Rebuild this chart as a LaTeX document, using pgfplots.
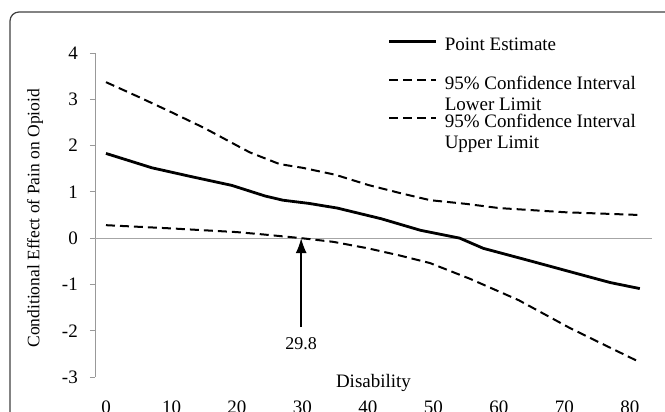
\documentclass[border=0pt]{standalone}
\usepackage{pgfplots}
\pgfplotsset{compat=1.18}
\usepackage{fontspec}
\setmainfont{Liberation Serif}
\usetikzlibrary{arrows.meta}

\pgfplotstableread{
x y
0 1.83
7 1.52
13 1.33
19.2 1.14
24.3 0.91
27 0.82
31 0.75
35.3 0.65
42 0.42
48 0.17
54 0.0
57.6 -0.22
65 -0.5
72.8 -0.8
77 -0.96
81.5 -1.09
}\pointest

\pgfplotstableread{
x y
0 0.28
10 0.21
20 0.13
24 0.08
29.8 0.0
34.7 -0.08
40 -0.22
45 -0.38
49.5 -0.54
55.6 -0.88
63 -1.34
70.8 -1.94
76 -2.3
81.5 -2.68
}\lowerlim

\pgfplotstableread{
x y
0 3.37
5 3.05
10 2.72
15 2.38
20 2.0
22 1.85
26.5 1.6
30 1.52
35 1.37
40 1.15
45 0.97
49.5 0.82
55 0.74
60 0.65
70 0.56
81.5 0.5
}\upperlim

\begin{document}
\begin{tikzpicture}[x=1pt,y=1pt]
\useasboundingbox (-95,-35) rectangle (570,377);
\draw[black!75, line width=1.2pt, rounded corners=9pt] (-85,365) rectangle (640,-100);
\begin{axis}[
  anchor=south west,
  scale only axis, width=557pt, height=324pt,
  xmin=-1.68, xmax=83.36, ymin=-3, ymax=4,
  axis x line*=bottom, axis y line*=left,
  x axis line style={draw=none},
  y axis line style={draw=gray!80, line width=0.8pt},
  xtick={0,10,...,80}, ytick={-3,-2,...,4},
  xtick style={draw=none},
  ytick style={draw=gray!80, line width=0.8pt},
  tick align=outside, major tick length=5pt,
  /pgf/number format/assume math mode=true,
  tick label style={font=\fontsize{19}{22}\selectfont, inner sep=0pt},
  xticklabel style={anchor=north, yshift=-19pt},
  yticklabel style={anchor=east, xshift=-12pt},
  xlabel={Disability},
  xlabel style={at={(axis description cs:0.5,-0.0185)}, anchor=center, font=\fontsize{19}{22}\selectfont, inner sep=0pt},
  ylabel={Conditional Effect of Pain on Opioid},
  ylabel style={at={(axis description cs:-0.1077,0.49)}, anchor=center, font=\fontsize{17.5}{20}\selectfont, inner sep=0pt},
  legend cell align=left,
  legend style={at={(axis description cs:0.526,1.040)}, anchor=north west, draw=none, fill=none, inner sep=0pt, outer sep=0pt, row sep=36pt, column sep=7pt, nodes={inner sep=0pt, outer sep=0pt}, font=\fontsize{19}{21}\selectfont},
  legend image code/.code={\draw[#1] (0pt,0pt) -- (47pt,0pt);},
  clip=false,
]
\draw[gray!70, line width=0.8pt] (axis cs:-1.68,0) -- (axis cs:83.36,0);
\addplot[black, line width=2.8pt] table {\pointest};
\addlegendentry{\raisebox{-10pt}[0pt][0pt]{Point Estimate}}
\addplot[black, line width=2pt, dash pattern=on 9pt off 5pt] table {\lowerlim};
\addlegendentry{\raisebox{-10pt}[0pt][0pt]{\begin{tabular}[t]{@{}l@{}}95\% Confidence Interval\\Lower Limit\end{tabular}}}
\addplot[black, line width=2pt, dash pattern=on 9pt off 5pt] table {\upperlim};
\addlegendentry{\raisebox{-10pt}[0pt][0pt]{\begin{tabular}[t]{@{}l@{}}95\% Confidence Interval\\Upper Limit\end{tabular}}}
\draw[-{Latex[length=15pt,width=11pt]}, line width=1.4pt] (axis cs:29.8,-1.92) -- (axis cs:29.8,0);
\node[font=\fontsize{18}{20}\selectfont, inner sep=0pt] at (axis cs:29.8,-2.29) {29.8};
\end{axis}
\end{tikzpicture}
\end{document}
